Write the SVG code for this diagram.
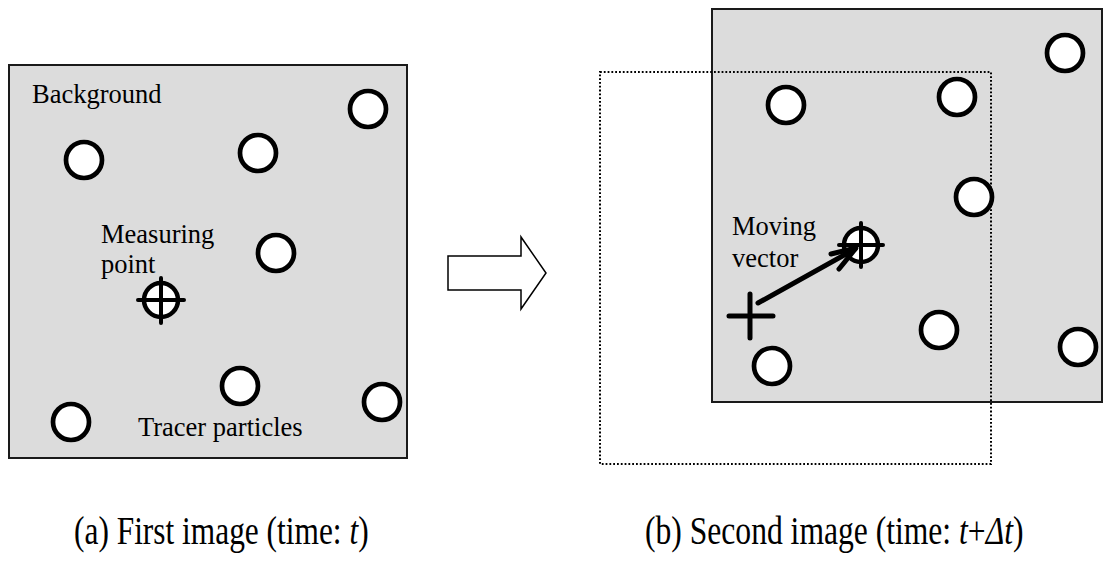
<svg xmlns="http://www.w3.org/2000/svg" width="1112" height="561" viewBox="0 0 1112 561">
  <style>
    .frame { fill: #dcdcdc; stroke: #1a1a1a; stroke-width: 2; }
    .window { fill: none; stroke: #000; stroke-width: 2; stroke-dasharray: 1.8 2; }
    .particle { fill: #fff; stroke: #000; stroke-width: 4.7; }
    .target { fill: #fff; stroke: #000; stroke-width: 4.5; }
    .hair { stroke: #000; stroke-width: 4; stroke-linecap: round; fill: none; }
    .label { font-family: "Liberation Serif", "Times New Roman", serif; font-size: 26.5px; fill: #000; }
    .caption { font-family: "Liberation Serif", "Times New Roman", serif; font-size: 40px; fill: #000; }
    .vec { stroke: #000; stroke-width: 5; stroke-linecap: round; stroke-linejoin: round; fill: none; }
  </style>

  <!-- (a) first frame -->
  <g id="frame-a">
    <rect class="frame" x="9" y="65" width="398" height="393"/>
    <text class="label" x="32" y="103">Background</text>
    <text class="label" x="101" y="243">Measuring</text>
    <text class="label" x="101" y="273">point</text>
    <text class="label" x="138" y="436">Tracer particles</text>
  </g>
  <g id="particles-a">
    <circle class="particle" cx="368" cy="109" r="18"/>
    <circle class="particle" cx="84" cy="160" r="18"/>
    <circle class="particle" cx="258" cy="153" r="18"/>
    <circle class="particle" cx="276" cy="253" r="18"/>
    <circle class="particle" cx="240" cy="386" r="18"/>
    <circle class="particle" cx="71" cy="422" r="18"/>
    <circle class="particle" cx="382" cy="402" r="18"/>
  </g>
  <g id="measuring-point">
    <circle class="target" cx="161" cy="300" r="17"/>
    <path class="hair" d="M138 300H184M161 278V323"/>
  </g>

  <!-- (b) second frame, shifted relative to the interrogation window -->
  <g id="frame-b">
    <rect class="frame" x="712" y="9" width="390" height="393"/>
    <rect class="window" x="600" y="72" width="391" height="392"/>
    <text class="label" x="732" y="235">Moving</text>
    <text class="label" x="732" y="267">vector</text>
  </g>
  <g id="particles-b">
    <circle class="particle" cx="1065" cy="53" r="18"/>
    <circle class="particle" cx="786" cy="105" r="18"/>
    <circle class="particle" cx="957" cy="97" r="18"/>
    <circle class="particle" cx="974" cy="197" r="18"/>
    <circle class="particle" cx="939" cy="330" r="18"/>
    <circle class="particle" cx="772" cy="366" r="18"/>
    <circle class="particle" cx="1078" cy="347" r="18"/>
  </g>
  <g id="displaced-point">
    <circle class="target" cx="861" cy="245" r="17"/>
    <path class="hair" d="M839 245H883M861 223V267"/>
  </g>
  <g id="origin-point">
    <path class="hair" d="M729 316H773M750 294V338" style="stroke-width:5"/>
  </g>

  <!-- connectors -->
  <g id="connectors">
    <polygon points="448,256 521,256 521,237 546,273 521,309 521,290 448,290" fill="#fff" stroke="#000" stroke-width="1.5"/>
    <path class="vec" d="M758 303L855 249"/>
    <path class="vec" d="M831 254L856 248L839 269"/>
  </g>

  <!-- captions -->
  <g id="captions">
    <text class="caption" transform="translate(74,544) scale(0.785,1)">(a) First image (time: <tspan font-style="italic">t</tspan>)</text>
    <text class="caption" transform="translate(645,544) scale(0.79,1)">(b) Second image (time: <tspan font-style="italic">t</tspan>+<tspan font-style="italic">Δt</tspan>)</text>
  </g>
</svg>
